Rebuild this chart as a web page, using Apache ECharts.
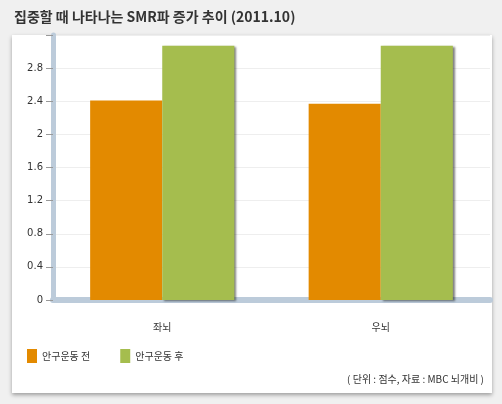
<!DOCTYPE html>
<html><head><meta charset="utf-8">
<script src="https://cdn.jsdelivr.net/npm/echarts@6/dist/echarts.min.js"></script>
<style>html,body{margin:0;padding:0;background:#f0f0f0}#c{width:502px;height:404px}</style>
</head><body><div id="c"></div>
<script>
const categories = ['좌뇌', '우뇌'];
const seriesNames = ['안구운동 전', '안구운동 후'];
const before = [2.41, 2.37];
const after = [3.07, 3.07];
const colors = ['#e38a00', '#a5bd4e'];
const chart = echarts.init(document.getElementById('c'));
const font = '"Noto Sans CJK KR", sans-serif';
chart.setOption({
  animation: false,
  backgroundColor: '#f0f0f0',
  graphic: [
    {type:'rect', z:-10, shape:{x:12,y:35,width:480,height:358}, style:{fill:'#fff', shadowColor:'rgba(0,0,0,0.35)', shadowBlur:4, shadowOffsetY:2}},
    {type:'text', left:14, top:10, style:{text:'집중할 때 나타나는 SMR파 증가 추이 (2011.10)', font:'bold 14px '+font, fill:'#333'}},
    {type:'text', right:18, top:374, style:{text:'( 단위 : 점수, 자료 : MBC 뇌개비 )', font:'10px '+font, fill:'#333'}}
  ],
  legend: {left: 22, top: 344, itemWidth: 10, itemHeight: 14, itemGap: 30, icon: 'rect',
    textStyle: {fontFamily: font, fontSize: 10, color: '#333'}, data: seriesNames},
  grid: {left: 53, right: 12, top: 35, bottom: 104},
  xAxis: {type: 'category', data: categories,
    axisLine: {lineStyle: {color: '#bccbda', width: 6}}, axisTick: {show: false},
    axisLabel: {margin: 22, fontFamily: font, fontSize: 10, color: '#333'}},
  yAxis: {type: 'value', min: 0, max: 3.2, interval: 0.4,
    axisLine: {show: true, lineStyle: {color: '#bccbda', width: 5}},
    axisTick: {show: true, length: 7, lineStyle: {color: '#999'}},
    axisLabel: {margin: 10, fontSize: 10, color: '#333', fontFamily: 'Verdana, DejaVu Sans, sans-serif',
      formatter: v => v >= 3.2 ? '' : String(Math.round(v*10)/10)},
    splitLine: {lineStyle: {color: '#eeeeee'}}},
  series: [
    {name: seriesNames[0], type: 'bar', data: before, barGap: '0%', barCategoryGap: '34%',
     itemStyle: {color: colors[0]}},
    {name: seriesNames[1], type: 'bar', data: after,
     itemStyle: {color: colors[1], shadowColor: 'rgba(0,0,0,0.5)', shadowOffsetX: 2, shadowOffsetY: 1, shadowBlur: 2}}
  ]
});
</script></body></html>
